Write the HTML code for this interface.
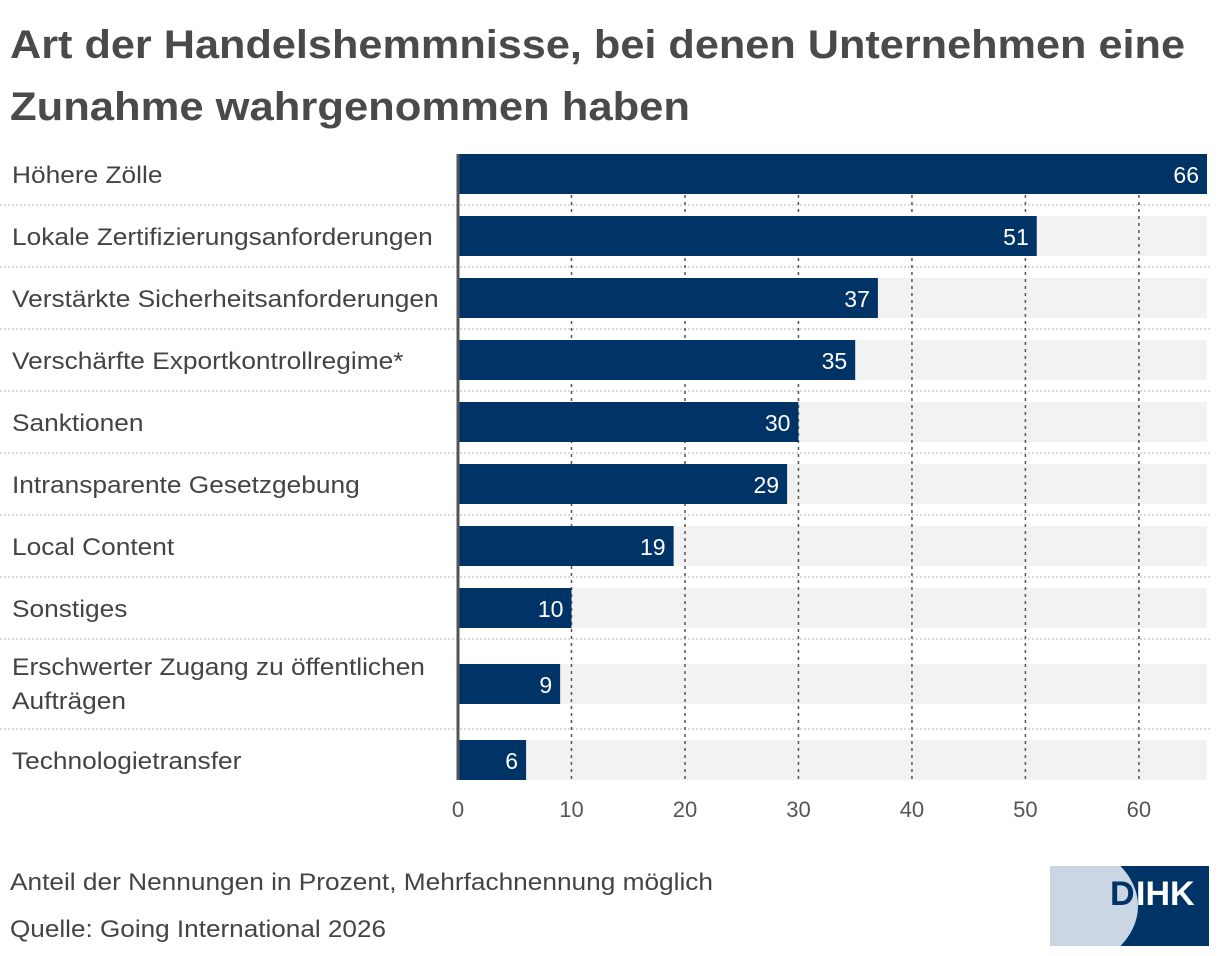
<!DOCTYPE html>
<html><head><meta charset="utf-8"><style>
body{margin:0;background:#fff;}
svg{display:block;font-family:"Liberation Sans",sans-serif;}
</style></head><body>
<svg id="c" width="1220" height="956">
<text x="10" y="58" font-size="40" font-weight="bold" fill="#4a4a4a" textLength="1175" lengthAdjust="spacingAndGlyphs">Art der Handelshemmnisse, bei denen Unternehmen eine</text>
<text x="10" y="120" font-size="40" font-weight="bold" fill="#4a4a4a" textLength="680" lengthAdjust="spacingAndGlyphs">Zunahme wahrgenommen haben</text>
<g id="grid"></g><g id="bars"></g><g id="xt"></g>
<text x="10" y="890" font-size="24" fill="#444" textLength="703" lengthAdjust="spacingAndGlyphs">Anteil der Nennungen in Prozent, Mehrfachnennung möglich</text>
<text x="10" y="937" font-size="24" fill="#444" textLength="376" lengthAdjust="spacingAndGlyphs">Quelle: Going International 2026</text>
<g>
<clipPath id="lc"><rect x="1050" y="866" width="159" height="80"/></clipPath>
<rect x="1050" y="866" width="159" height="80" fill="#003366"/>
<ellipse cx="1040" cy="906" rx="98" ry="70" fill="#cbd6e4" clip-path="url(#lc)"/>
<text x="1110" y="905" font-size="34" font-weight="bold" fill="#003366">D</text>
<text x="1136" y="905" font-size="34" font-weight="bold" fill="#fff">IHK</text>
</g>
</svg>
<script>
const categories=["Höhere Zölle","Lokale Zertifizierungsanforderungen","Verstärkte Sicherheitsanforderungen","Verschärfte Exportkontrollregime*","Sanktionen","Intransparente Gesetzgebung","Local Content","Sonstiges","Erschwerter Zugang zu öffentlichen|Aufträgen","Technologietransfer"];
const values=[66,51,37,35,30,29,19,10,9,6];
const ticks=[0,10,20,30,40,50,60];
const maxV=66;
const NS="http://www.w3.org/2000/svg";
const X0=458,X1=1207;
const x=v=>X0+(X1-X0)*v/maxV;
const tops=[154,216,278,340,402,464,526,588,664,740];
const sepY=[205,267,329,391,453,515,577,639,729];
function mk(t,a,p){const e=document.createElementNS(NS,t);for(const k in a)e.setAttribute(k,a[k]);p.appendChild(e);return e;}
const G=document.getElementById('grid'),B=document.getElementById('bars'),XT=document.getElementById('xt');
sepY.forEach(y=>{const l=mk('line',{x1:0,x2:1210,y1:y,y2:y,stroke:'#cfcfcf','stroke-width':1.5,'stroke-dasharray':'2 2'},G);

});
categories.forEach((c,i)=>{const t=tops[i];
const bg=mk('rect',{x:X0,y:t,width:X1-X0,height:40,fill:'#f2f2f2'},G);


const lines=c.split('|');
lines.forEach((s,j)=>{const tx=mk('text',{x:12,y:(lines.length>1?t+11+j*34:t+29),'font-size':24,fill:'#444'},B);tx.textContent=s;


const w=tx.getComputedTextLength();tx.setAttribute('textLength',w*1.095);tx.setAttribute('lengthAdjust','spacingAndGlyphs');});
});
ticks.forEach(v=>{if(v===0)return;const l=mk('line',{x1:x(v),x2:x(v),y1:195,y2:780,stroke:'#555','stroke-width':1.5,'stroke-dasharray':'3 4'},G);

});
ticks.forEach(v=>{const t=mk('text',{x:x(v),y:817,'font-size':22,fill:'#555','text-anchor':'middle'},XT);t.textContent=v;

});
values.forEach((v,i)=>{const t=tops[i];
const r=mk('rect',{x:X0,y:t,width:x(v)-X0,height:40,fill:'#003366'},B);


const tx=mk('text',{x:x(v)-8,y:t+29,'font-size':23,fill:'#fff','text-anchor':'end'},B);tx.textContent=v;

});
const ax=mk('line',{x1:458,x2:458,y1:154,y2:780,stroke:'#555','stroke-width':3},B);


</script>
</body></html>
